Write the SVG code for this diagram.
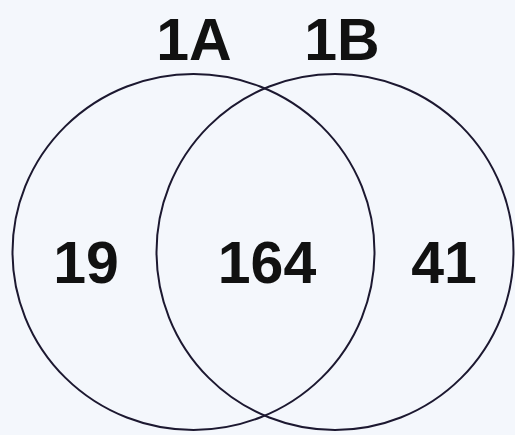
<svg xmlns="http://www.w3.org/2000/svg" width="515" height="435" viewBox="0 0 515 435">
<style>
.set{fill:none;stroke:#1c1830;stroke-width:2}
.lbl{font-family:"Liberation Sans",Arial,sans-serif;font-weight:bold;font-size:59px;fill:#111;text-anchor:middle}
</style>
<rect width="515" height="435" fill="#f4f7fc"/>
<g id="set-1A">
<ellipse class="set" cx="193.5" cy="252" rx="181" ry="178"/>
<text class="lbl" x="194" y="60">1A</text>
</g>
<g id="set-1B">
<ellipse class="set" cx="335" cy="252" rx="178.5" ry="178"/>
<text class="lbl" x="342" y="60">1B</text>
</g>
<g id="region-counts">
<text class="lbl" x="86" y="283">19</text>
<text class="lbl" x="267" y="283">164</text>
<text class="lbl" x="444" y="283">41</text>
</g>
<g id="connectors"/>
</svg>
